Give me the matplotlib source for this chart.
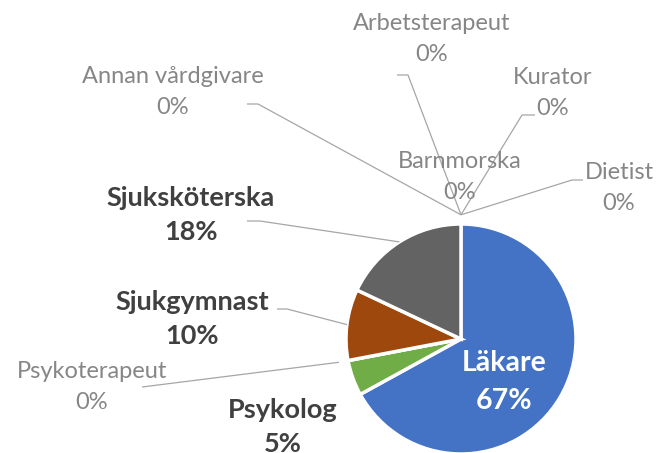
import matplotlib
matplotlib.use("Agg")
import numpy as np
import matplotlib.pyplot as plt

# data (Excel order, clockwise from the top)
roles = ["Annan vårdgivare", "Arbetsterapeut", "Barnmorska", "Dietist", "Kurator",
         "Läkare", "Psykolog", "Psykoterapeut", "Sjukgymnast", "Sjuksköterska"]
shares = [0, 0, 0, 0, 0, 67, 5, 0, 10, 18]
colors = ["#4472C4", "#ED7D31", "#A5A5A5", "#FFC000", "#5B9BD5",
          "#4472C4", "#70AD47", "#264478", "#9E480E", "#636363"]

W, H = 664, 453
CENTER = (461, 339)   # image px, y down
RADIUS = 115

# label layout in image px: text centre, leader start, leader elbow (None = no leader)
label_pos = {
    "Annan vårdgivare": ((173, 92), (247, 104), (258, 104)),
    "Arbetsterapeut": ((432, 39), (397, 75), (408, 75)),
    "Barnmorska": ((460, 177), None, None),
    "Dietist": ((619, 188), (583, 180), (572, 180)),
    "Kurator": ((553, 93), (535, 115), (522, 115)),
    "Läkare": ((504, 382), None, None),
    "Psykolog": ((283, 427), None, None),
    "Psykoterapeut": ((92, 387), (142, 387), (142, 387)),
    "Sjukgymnast": ((192, 319), (277, 309), (287, 309)),
    "Sjuksköterska": ((191, 215), (247, 221), (260, 221)),
}

plt.rcParams["font.family"] = ["Lato", "DejaVu Sans"]


def fy(y):
    return H - y


fig = plt.figure(figsize=(W / 100, H / 100), dpi=100)
ax = fig.add_axes([0, 0, 1, 1])

wedges, _ = ax.pie(shares, colors=colors, startangle=90, counterclock=False,
                   center=(CENTER[0], fy(CENTER[1])), radius=RADIUS,
                   wedgeprops=dict(edgecolor="white", linewidth=2.5))

ax.set_xlim(0, W)
ax.set_ylim(0, H)
ax.set_aspect("equal")
ax.axis("off")

for wedge, role, val in zip(wedges, roles, shares):
    (tx, ty), start, elbow = label_pos[role]
    text = f"{role}\n{val}%"
    if role == "Läkare":
        ax.text(tx, fy(ty), text, ha="center", va="center", fontsize=20.5,
                fontweight="bold", color="white", linespacing=1.6)
        continue
    if val > 0:
        ax.text(tx, fy(ty), text, ha="center", va="center", fontsize=19.5,
                fontweight="bold", color="#404040", linespacing=1.55)
    else:
        ax.text(tx, fy(ty), text, ha="center", va="center", fontsize=17,
                color="#868686", linespacing=1.6)
    if start is None:
        continue
    mid = np.deg2rad((wedge.theta1 + wedge.theta2) / 2)
    r = wedge.r * (1.0 if val > 0 else 1.08)
    cx, cy = wedge.center
    ex, ey = cx + r * np.cos(mid), cy + r * np.sin(mid)
    ax.plot([start[0], elbow[0], ex], [fy(start[1]), fy(elbow[1]), ey],
            color="#A6A6A6", linewidth=0.9, solid_capstyle="butt")

fig.savefig("out.png", dpi=100)
